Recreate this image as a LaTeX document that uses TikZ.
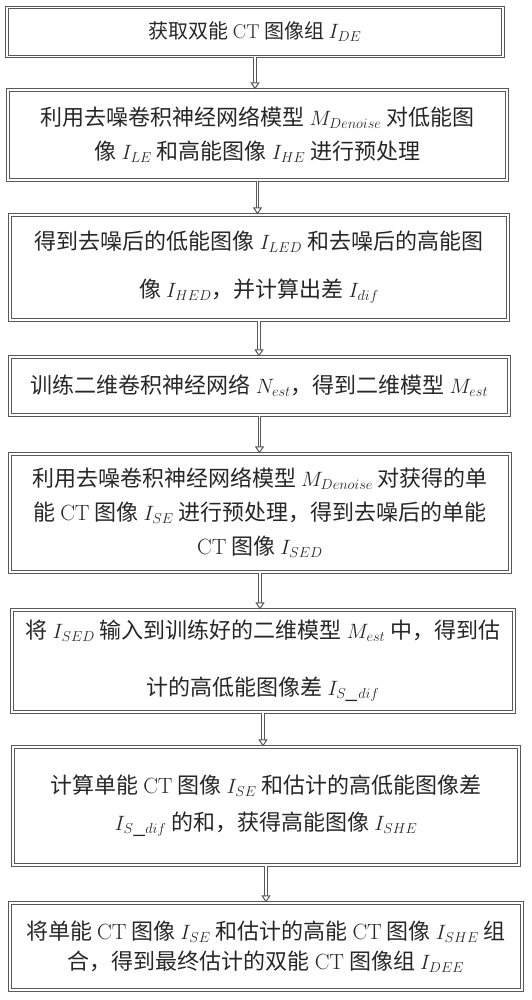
\documentclass[tikz,border=0pt]{standalone}
\usepackage{fontspec}
\newfontfamily\cjk{Noto Sans CJK SC}
\usetikzlibrary{arrows.meta}
\newcommand\CTtxt{{\rmfamily CT}}
\begin{document}
\begin{tikzpicture}[x=1pt, y=-1pt,
every edge/.style = {draw, -{Triangle[open, length=7pt, width=9pt]},
                     double=white, double distance=1.3pt, line width=1pt, black!65},
         B/.style = {draw=black!65, double=white, double distance=1.4pt, line width=1.1pt,
                     inner sep=0pt, align=center, text=black!85,
                     font=\cjk\fontsize{22}{26}\selectfont}
                    ]
\useasboundingbox (0,0) rectangle (532,1000);

\node[B, minimum width=496, minimum height=49, font=\cjk\fontsize{20}{24}\selectfont]
      (s1) at (255,32) {获取双能 \CTtxt{} 图像组 $I_{DE}$};
\node[B, minimum width=499, minimum height=90] (s2) at (257.5,135)
      {利用去噪卷积神经网络模型 $M_{Denoise}$ 对低能图\\[8pt]
       像 $I_{LE}$ 和高能图像 $I_{HE}$ 进行预处理};
\node[B, minimum width=498, minimum height=105] (s3) at (259,267.5)
      {得到去噪后的低能图像 $I_{LED}$ 和去噪后的高能图\\[22pt]
       像 $I_{HED}$，并计算出差 $I_{dif}$};
\node[B, minimum width=499, minimum height=58] (s4) at (259.5,386)
      {训练二维卷积神经网络 $N_{est}$，得到二维模型 $M_{est}$};
\node[B, minimum width=500, minimum height=118] (s5) at (260,513)
      {利用去噪卷积神经网络模型 $M_{Denoise}$ 对获得的单\\[8pt]
       能 \CTtxt{} 图像 $I_{SE}$ 进行预处理，得到去噪后的单能\\[8pt]
       \CTtxt{} 图像 $I_{SED}$};
\node[B, minimum width=502, minimum height=102] (s6) at (263,661)
      {将 $I_{SED}$ 输入到训练好的二维模型 $M_{est}$ 中，得到估\\[31pt]
       计的高低能图像差 $I_{S\_dif}$};
\node[B, minimum width=506, minimum height=118] (s7) at (266,806)
      {计算单能 \CTtxt{} 图像 $I_{SE}$ 和估计的高低能图像差\\[11pt]
       $I_{S\_dif}$ 的和，获得高能图像 $I_{SHE}$};
\node[B, minimum width=512, minimum height=87] (s8) at (266,946.5)
      {将单能 \CTtxt{} 图像 $I_{SE}$ 和估计的高能 \CTtxt{} 图像 $I_{SHE}$ 组\\[4pt]
       合，得到最终估计的双能 \CTtxt{} 图像组 $I_{DEE}$};

\draw   (s1.south) edge (s1.south |- s2.north)
        (s2.south) edge (s2.south |- s3.north)
        (s3.south) edge (s3.south |- s4.north)
        (s4.south) edge (s4.south |- s5.north)
        (s5.south) edge (s5.south |- s6.north)
        (s6.south) edge (s6.south |- s7.north)
        (s7.south) edge (s7.south |- s8.north);
\end{tikzpicture}
\end{document}
